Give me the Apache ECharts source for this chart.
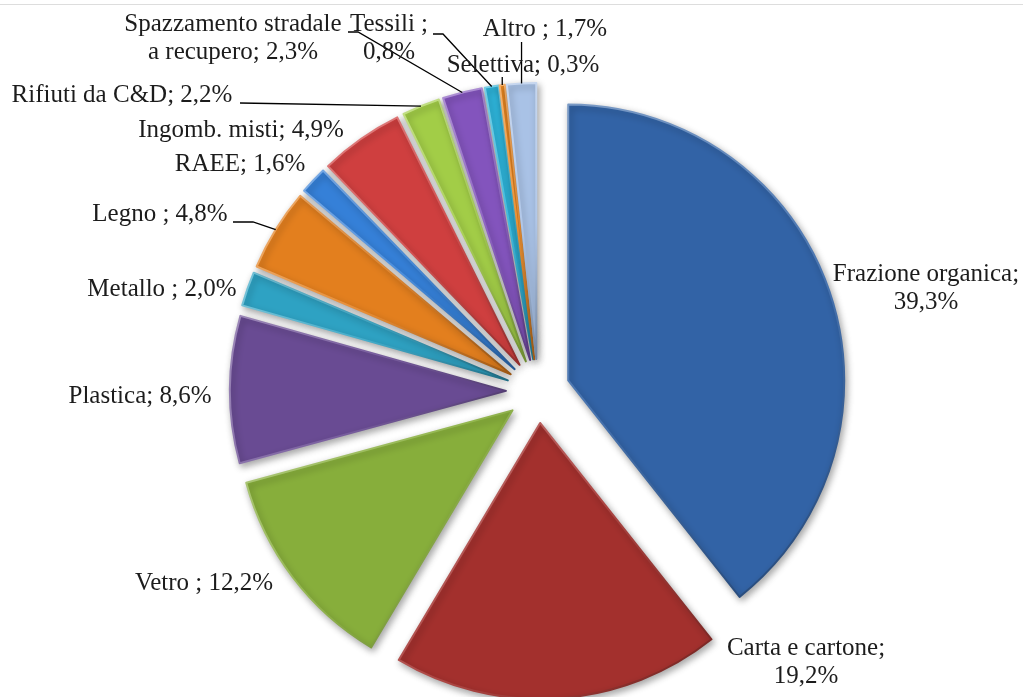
<!DOCTYPE html>
<html>
<head>
<meta charset="utf-8">
<title>Raccolta differenziata per frazione</title>
<script src="https://cdn.jsdelivr.net/npm/echarts@6/dist/echarts.min.js"></script>
<style>
  html, body { margin: 0; padding: 0; background: #ffffff; }
  #wrap { position: relative; width: 1023px; height: 697px; overflow: hidden; }
  #chart { width: 1023px; height: 697px; }
  #rule { position: absolute; left: 0; top: 4px; width: 1023px; height: 1px; background: #dddddd; }
</style>
</head>
<body>
<div id="wrap">
  <div id="chart"></div>
  <div id="rule"></div>
</div>
<script>
// Fractions, clockwise from 12 o'clock
const categories = [
  'Frazione organica', 'Carta e cartone', 'Vetro ', 'Plastica', 'Metallo ',
  'Legno ', 'RAEE', 'Ingomb. misti', 'Rifiuti da C&D',
  'Spazzamento stradale a recupero', 'Tessili ', 'Selettiva', 'Altro '
];
// Share of the total, %
const shares = [39.3, 19.2, 12.2, 8.6, 2.0, 4.8, 1.6, 4.9, 2.2, 2.3, 0.8, 0.3, 1.7];

// Slice fills
const sliceColors = [
  '#3263a6', '#a3302d', '#87ae3b', '#694b93', '#2ea2c3',
  '#e37f1e', '#3580d8', '#cf3f3f', '#a2cd47', '#8354bd',
  '#2db3d9', '#ef8a22', '#a9c2e6'
];

// Label placement (centre of the text block) and line breaks
const labelSpots = [
  { x: 926, y: 288, wrap: 'sep' },
  { x: 806, y: 662, wrap: 'sep' },
  { x: 204, y: 583, wrap: null },
  { x: 140, y: 396, wrap: null },
  { x: 162, y: 289, wrap: null },
  { x: 160, y: 214, wrap: null },
  { x: 240, y: 164, wrap: null },
  { x: 241, y: 130, wrap: null },
  { x: 122, y: 95,  wrap: null },
  { x: 233, y: 38,  wrap: 'name' },
  { x: 389, y: 38,  wrap: 'sep' },
  { x: 523, y: 65,  wrap: null },
  { x: 545, y: 29,  wrap: null }
];

// Leader lines: start next to the label, optional elbow, end on the slice's outer arc
const leaders = [
  { index: 5,  start: [233, 222], elbow: [253, 222] },
  { index: 8,  start: [240, 103], elbow: null },
  { index: 9,  start: [348, 32],  elbow: [358, 32] },
  { index: 10, start: [433, 34],  elbow: [443, 34] },
  { index: 11, startY: 77 },
  { index: 12, startY: 42 }
];

const PIE_CENTER = [538, 391];
const PIE_RADIUS = 276;
const EXPLODE = 32;
const FONT = '"Liberation Serif", "Times New Roman", serif';

function pct(v) {
  return v.toFixed(1).replace('.', ',') + '%';
}

function labelText(i) {
  const spot = labelSpots[i];
  let name = categories[i];
  if (spot.wrap === 'name') name = name.replace('stradale ', 'stradale\n');
  return name + ';' + (spot.wrap === 'sep' ? '\n' : ' ') + pct(shares[i]);
}

// Blend a hex colour toward white (t > 0) or black (t < 0)
function shade(hex, t) {
  const n = parseInt(hex.slice(1), 16);
  const ch = [(n >> 16) & 255, (n >> 8) & 255, n & 255].map(c =>
    Math.round(t >= 0 ? c + (255 - c) * t : c * (1 + t))
  );
  return 'rgb(' + ch.join(',') + ')';
}

// Bevelled edge: light on the upper-left rims, dark on the lower-right ones
function bevel(hex) {
  return new echarts.graphic.LinearGradient(0, 0, 1, 1, [
    { offset: 0, color: shade(hex, 0.35) },
    { offset: 0.5, color: shade(hex, 0.1) },
    { offset: 1, color: shade(hex, -0.3) }
  ]);
}

const pieData = categories.map((name, i) => ({
  name: name,
  value: shares[i],
  selected: true,
  itemStyle: { color: sliceColors[i], borderColor: bevel(sliceColors[i]) }
}));

const chart = echarts.init(document.getElementById('chart'), null, { renderer: 'canvas' });

chart.setOption({
  animation: false,
  backgroundColor: '#ffffff',
  series: [{
    type: 'pie',
    center: PIE_CENTER,
    radius: [0, PIE_RADIUS],
    startAngle: 90,
    clockwise: true,
    selectedMode: 'multiple',
    selectedOffset: EXPLODE,
    emphasis: { disabled: true },
    itemStyle: {
      borderWidth: 2,
      borderJoin: 'round',
      shadowBlur: 7,
      shadowOffsetX: 2,
      shadowOffsetY: 3,
      shadowColor: 'rgba(0,0,0,0.35)'
    },
    label: { show: false },
    labelLine: { show: false },
    data: pieData
  }]
});

// Midpoint of a slice's outer arc, including the explode offset
function arcMid(i) {
  const lay = chart.getModel().getSeriesByIndex(0).getData().getItemLayout(i);
  const mid = (lay.startAngle + lay.endAngle) / 2;
  const ox = Math.cos(mid) * EXPLODE;
  const oy = Math.sin(mid) * EXPLODE;
  return [lay.cx + ox + lay.r * Math.cos(mid), lay.cy + oy + lay.r * Math.sin(mid)];
}

const graphics = [];

categories.forEach((c, i) => {
  const s = labelSpots[i];
  graphics.push({
    type: 'text',
    x: s.x,
    y: s.y,
    silent: true,
    z: 10,
    style: {
      text: labelText(i),
      fontFamily: FONT,
      fontSize: 25,
      lineHeight: 28,
      fill: '#1c1c1c',
      align: 'center',
      verticalAlign: 'middle'
    }
  });
});

leaders.forEach(l => {
  const end = arcMid(l.index);
  const pts = [];
  if (l.start) {
    pts.push(l.start);
    if (l.elbow) pts.push(l.elbow);
  } else {
    pts.push([end[0], l.startY]);
  }
  pts.push(end);
  graphics.push({
    type: 'polyline',
    silent: true,
    z: 9,
    shape: { points: pts },
    style: { stroke: '#000000', lineWidth: 1.3, fill: null }
  });
});

chart.setOption({ graphic: graphics });
</script>
</body>
</html>
